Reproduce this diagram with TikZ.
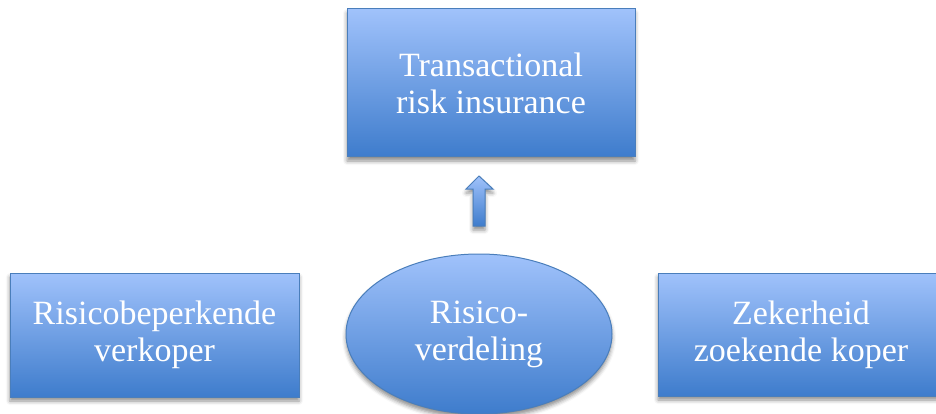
\documentclass[tikz,border=0pt]{standalone}
\usepackage{fontspec}
\setmainfont{Liberation Serif}
\usetikzlibrary{shapes.geometric,shadows.blur}
\definecolor{topblue}{RGB}{160,194,251}
\definecolor{botblue}{RGB}{62,124,204}
\definecolor{edgeblue}{RGB}{74,126,187}
\tikzset{
  fillstyle/.style={top color=topblue,bottom color=botblue,draw=edgeblue,line width=1pt,
    blur shadow={shadow xshift=0pt,shadow yshift=-4pt,shadow blur radius=4pt,shadow opacity=45}},
  txt/.style={text=white,font=\fontsize{34}{37}\selectfont,align=center,inner sep=0pt},
  blockbox/.style={fillstyle,rectangle,txt},
  blob/.style={fillstyle,ellipse,txt}
}
\begin{document}
\begin{tikzpicture}[x=1pt,y=-1pt]
\useasboundingbox (0,0) rectangle (936,414);
\node[blockbox,minimum width=288pt,minimum height=148pt] (top) at (491,83) {Transactional\\risk insurance};
\node[blockbox,minimum width=289pt,minimum height=124pt] (left) at (154.5,335) {Risicobeperkende\\verkoper};
\node[blockbox,minimum width=286pt,minimum height=123pt] (right) at (801,334.5) {Zekerheid\\zoekende koper};
\node[blob,minimum width=266pt,minimum height=160pt] (mid) at (479,334) {Risico-\\verdeling};
\coordinate (arrbase) at (479,226);
\coordinate (arrtip) at (479,176);
\path[fillstyle] ([xshift=-6pt]arrbase) -- ([xshift=6pt]arrbase) -- ([xshift=6pt,yshift=37pt]arrbase)
  -- ([xshift=14pt,yshift=37pt]arrbase) -- (arrtip) -- ([xshift=-13pt,yshift=37pt]arrbase)
  -- ([xshift=-6pt,yshift=37pt]arrbase) -- cycle;
\end{tikzpicture}
\end{document}
